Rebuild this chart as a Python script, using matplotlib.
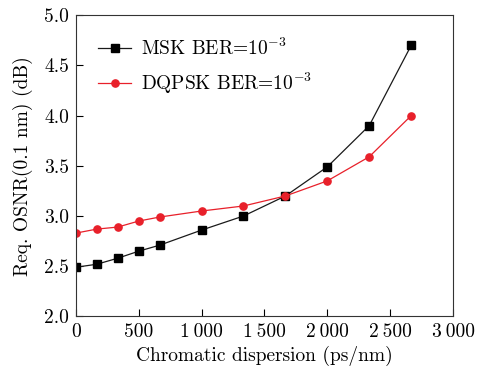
import matplotlib
matplotlib.use("Agg")
import matplotlib.pyplot as plt

plt.rcParams['font.family'] = ['cmr10', 'DejaVu Serif']
plt.rcParams['mathtext.fontset'] = 'cm'
plt.rcParams['axes.unicode_minus'] = False

dispersion = [0, 167, 333, 500, 667, 1000, 1333, 1667, 2000, 2333, 2667]
msk = [2.49, 2.52, 2.58, 2.65, 2.71, 2.86, 3.00, 3.20, 3.49, 3.90, 4.70]
dqpsk = [2.83, 2.87, 2.89, 2.95, 2.99, 3.05, 3.10, 3.20, 3.35, 3.59, 4.00]

xticks = [0, 500, 1000, 1500, 2000, 2500, 3000]
xtick_labels = ['0', '500', '1\u2009000', '1\u2009500', '2\u2009000', '2\u2009500', '3\u2009000']
yticks = [2.0, 2.5, 3.0, 3.5, 4.0, 4.5, 5.0]
ytick_labels = ['2.0', '2.5', '3.0', '3.5', '4.0', '4.5', '5.0']

fig, ax = plt.subplots(figsize=(4.8, 3.79), dpi=100)

ax.plot(dispersion, msk, color='#1a1a1a', marker='s', markersize=5.5, linewidth=0.9,
        markerfacecolor='black', markeredgecolor='black', label=r'MSK BER=$10^{-3}$')
ax.plot(dispersion, dqpsk, color='#e8202a', marker='o', markersize=5.2, linewidth=0.9,
        markerfacecolor='#e8202a', markeredgecolor='#e8202a', label=r'DQPSK BER=$10^{-3}$')

ax.set_xlim(0, 3000)
ax.set_ylim(2.0, 5.0)
ax.set_xticks(xticks)
ax.set_xticklabels(xtick_labels)
ax.set_yticks(yticks)
ax.set_yticklabels(ytick_labels)
ax.tick_params(direction='in', labelsize=14, length=5, pad=5)
ax.set_xlabel('Chromatic dispersion (ps/nm)', fontsize=14, labelpad=3)
ax.set_ylabel('Req. OSNR(0.1 nm) (dB)', fontsize=14, labelpad=8)
for s in ax.spines.values():
    s.set_color('#333333')

ax.legend(loc='upper left', frameon=False, fontsize=14, handlelength=1.7,
          borderaxespad=0.75, labelspacing=0.6, handletextpad=0.5)

fig.subplots_adjust(left=0.158, right=0.944, top=0.96, bottom=0.165)
fig.savefig('out.png', dpi=100)
